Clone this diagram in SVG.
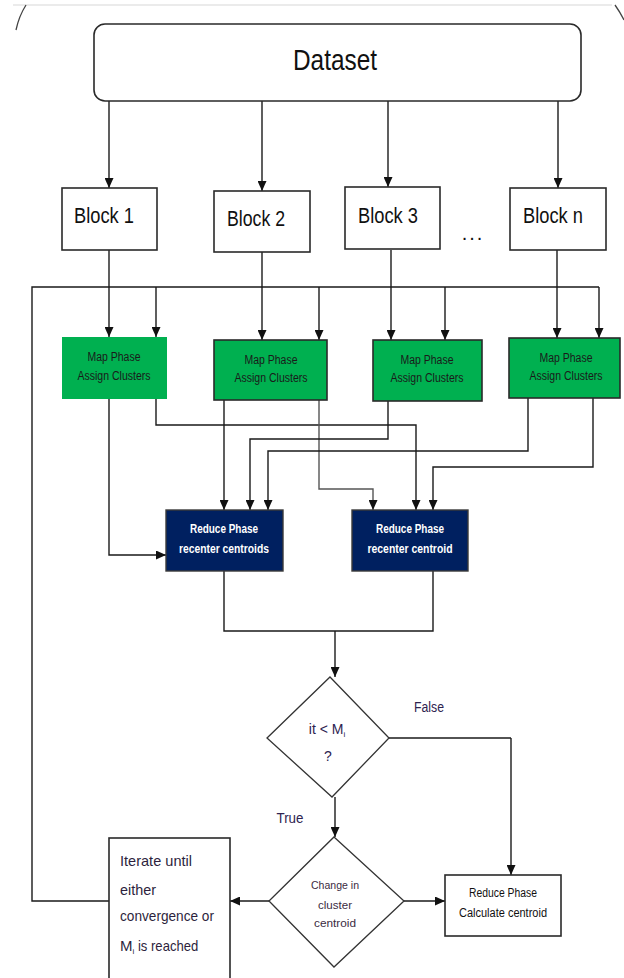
<svg xmlns="http://www.w3.org/2000/svg" width="624" height="978" viewBox="0 0 624 978">
<defs>
<marker id="ah" markerWidth="10" markerHeight="9" refX="10" refY="4.5" orient="auto" markerUnits="userSpaceOnUse"><path d="M0,0 L10,4.5 L0,9 z" fill="#111"/></marker>
<style>
.ln{fill:none;stroke:#1a1a1a;stroke-width:1.4}
.ar{fill:none;stroke:#1a1a1a;stroke-width:1.4;marker-end:url(#ah)}
.wb{fill:#fff;stroke:#2a2a2a;stroke-width:1.6}
.map{fill:#00b050;stroke:#2a2a2a;stroke-width:1.6}
.red{fill:#002060;stroke:#3a3a3a;stroke-width:1.4}
.t{font-family:"Liberation Sans",Arial,sans-serif;text-anchor:middle}
.mt{font-size:12px;fill:#1a1a1a}
.rt{font-size:12px;fill:#fff;font-weight:bold}
.bt{font-size:22px;fill:#111}
.pt{fill:#2e2350}
</style>
</defs>
<rect width="624" height="978" fill="#fff"/>
<g id="frame">
<line x1="13" y1="5" x2="612" y2="5" stroke="#e4e4e4" stroke-width="1.5"/>
<path d="M26,5 Q19,16 16,30" fill="none" stroke="#444" stroke-width="1.3"/>
<path d="M615,5 Q620,12 624,20" fill="none" stroke="#444" stroke-width="1.3"/>
</g>
<g id="connectors">
<path class="ar" d="M109,101 V188"/>
<path class="ar" d="M262,101 V191"/>
<path class="ar" d="M388,101 V187"/>
<path class="ar" d="M558,101 V188"/>
<path class="ar" d="M109,250 V337"/>
<path class="ar" d="M262,252 V340"/>
<path class="ar" d="M391,250 V340"/>
<path class="ar" d="M557,250 V338"/>
<path class="ln" d="M109,901 H32 V287 H599"/>
<path class="ar" d="M156,287 V337"/>
<path class="ar" d="M319,287 V340"/>
<path class="ar" d="M445,287 V340"/>
<path class="ar" d="M599,287 V338"/>
<path class="ar" d="M109,399 V555 H166"/>
<path class="ar" d="M156,399 V425 H416 V510"/>
<path class="ar" d="M224,400 V510"/>
<path class="ar" d="M319,400 V489 H373 V510" style="stroke:#555"/>
<path class="ar" d="M388,401 V439 H250 V510"/>
<path class="ar" d="M528,398 V451 H268 V510"/>
<path class="ar" d="M593,398 V467 H433 V510"/>
<path class="ln" d="M224,571 V631 H433 V571"/>
<path class="ar" d="M335,631 V677"/>
<path class="ln" d="M388,738 H511"/>
<path class="ar" d="M511,738 V875"/>
<path class="ar" d="M335,797 V837"/>
<path class="ar" d="M269,901 H230"/>
<path class="ar" d="M404,901 H445"/>
</g>
<g id="dataset">
<rect class="wb" x="94" y="24" width="487" height="77" rx="11"/>
<text class="t" x="335" y="70" font-size="29" fill="#111" textLength="84" lengthAdjust="spacingAndGlyphs">Dataset</text>
</g>
<g id="block1"><rect class="wb" x="62" y="188" width="95" height="62"/><text class="t bt" x="104" y="223" textLength="60" lengthAdjust="spacingAndGlyphs">Block 1</text></g>
<g id="block2"><rect class="wb" x="214" y="191" width="96" height="61"/><text class="t bt" x="256" y="226" textLength="58" lengthAdjust="spacingAndGlyphs">Block 2</text></g>
<g id="block3"><rect class="wb" x="345" y="187" width="95" height="62"/><text class="t bt" x="388" y="223" textLength="60" lengthAdjust="spacingAndGlyphs">Block 3</text></g>
<g id="dots"><text class="t" x="473" y="240" font-size="20" fill="#111" letter-spacing="2">...</text></g>
<g id="blockn"><rect class="wb" x="510" y="188" width="96" height="62"/><text class="t bt" x="553" y="223" textLength="60" lengthAdjust="spacingAndGlyphs">Block n</text></g>
<g id="map1"><rect x="62" y="337" width="105" height="62" fill="#00b050"/><text class="t mt" x="114" y="361" textLength="53" lengthAdjust="spacingAndGlyphs">Map Phase</text><text class="t mt" x="114" y="380" textLength="73" lengthAdjust="spacingAndGlyphs">Assign Clusters</text></g>
<g id="map2"><rect class="map" x="214" y="340" width="113" height="60"/><text class="t mt" x="271" y="364" textLength="53" lengthAdjust="spacingAndGlyphs">Map Phase</text><text class="t mt" x="271" y="382" textLength="73" lengthAdjust="spacingAndGlyphs">Assign Clusters</text></g>
<g id="map3"><rect class="map" x="373" y="340" width="109" height="61"/><text class="t mt" x="427" y="364" textLength="53" lengthAdjust="spacingAndGlyphs">Map Phase</text><text class="t mt" x="427" y="382" textLength="73" lengthAdjust="spacingAndGlyphs">Assign Clusters</text></g>
<g id="mapn"><rect class="map" x="509" y="338" width="111" height="60"/><text class="t mt" x="566" y="362" textLength="53" lengthAdjust="spacingAndGlyphs">Map Phase</text><text class="t mt" x="566" y="380" textLength="73" lengthAdjust="spacingAndGlyphs">Assign Clusters</text></g>
<g id="reduce1"><rect class="red" x="166" y="510" width="117" height="61"/><text class="t rt" x="224" y="533" textLength="68" lengthAdjust="spacingAndGlyphs">Reduce Phase</text><text class="t rt" x="224" y="553" textLength="90" lengthAdjust="spacingAndGlyphs">recenter centroids</text></g>
<g id="reduce2"><rect class="red" x="352" y="510" width="116" height="61"/><text class="t rt" x="410" y="533" textLength="68" lengthAdjust="spacingAndGlyphs">Reduce Phase</text><text class="t rt" x="410" y="553" textLength="85" lengthAdjust="spacingAndGlyphs">recenter centroid</text></g>
<g id="decision1">
<polygon points="330,677 389,738 332,797 267,738" fill="#fff" stroke="#333" stroke-width="1.3"/>
<text class="t pt" x="327" y="734" font-size="14">it &lt; M<tspan font-size="8" dy="3">i</tspan></text>
<text class="t pt" x="328" y="761" font-size="14">?</text>
</g>
<g id="labels">
<text class="t pt" x="429" y="712" font-size="14" textLength="30" lengthAdjust="spacingAndGlyphs">False</text>
<text class="t pt" x="290" y="823" font-size="14" textLength="27" lengthAdjust="spacingAndGlyphs">True</text>
</g>
<g id="decision2">
<polygon points="334,837 404,901 334,967 269,901" fill="#fff" stroke="#333" stroke-width="1.3"/>
<text class="t" x="335" y="889" font-size="11.5" fill="#3b2b3f" textLength="48" lengthAdjust="spacingAndGlyphs">Change in</text>
<text class="t" x="335" y="909" font-size="11.5" fill="#3b2b3f" textLength="34" lengthAdjust="spacingAndGlyphs">cluster</text>
<text class="t" x="335" y="927" font-size="11.5" fill="#3b2b3f" textLength="42" lengthAdjust="spacingAndGlyphs">centroid</text>
</g>
<g id="calc"><rect class="wb" x="445" y="875" width="116" height="61"/><text class="t" x="503" y="897" font-size="12.5" fill="#111" textLength="68" lengthAdjust="spacingAndGlyphs">Reduce Phase</text><text class="t" x="503" y="917" font-size="12.5" fill="#111" textLength="88" lengthAdjust="spacingAndGlyphs">Calculate centroid</text></g>
<g id="iterate">
<rect class="wb" x="109" y="838" width="121" height="150"/>
<g font-family="Liberation Sans,Arial,sans-serif" font-size="15" fill="#2d1f3d">
<text x="120" y="866" textLength="72" lengthAdjust="spacingAndGlyphs">Iterate until</text>
<text x="120" y="895" textLength="36" lengthAdjust="spacingAndGlyphs">either</text>
<text x="120" y="921" textLength="94" lengthAdjust="spacingAndGlyphs">convergence or</text>
<text x="120" y="951">M<tspan font-size="8" dy="3">i</tspan><tspan dy="-3" textLength="64" lengthAdjust="spacingAndGlyphs"> is reached</tspan></text>
</g>
</g>
</svg>
